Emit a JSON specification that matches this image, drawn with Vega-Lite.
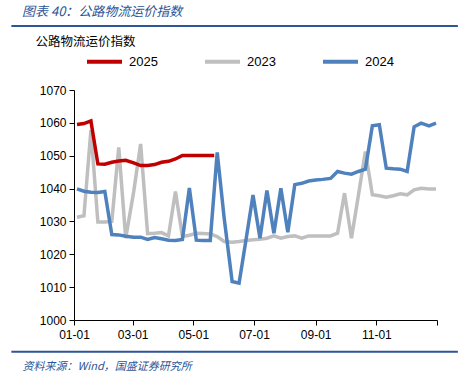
{
  "$schema": "https://vega.github.io/schema/vega-lite/v6.json",
  "width": 363,
  "height": 230,
  "autosize": {"type": "none"},
  "padding": {"left": 74, "top": 90, "right": 33, "bottom": 60},
  "background": "white",
  "config": {
    "view": {"stroke": null},
    "font": "Liberation Sans",
    "axis": {
      "grid": false,
      "domainColor": "#000000",
      "tickColor": "#000000",
      "tickSize": 5,
      "labelColor": "#000000",
      "labelFont": "Liberation Sans",
      "labelFontSize": 12,
      "labelFlush": false,
      "labelOverlap": false,
      "titleFontWeight": "normal",
      "titleFont": "Noto Sans CJK SC"
    }
  },
  "title": {
    "text": "图表 40：公路物流运价指数",
    "anchor": "start",
    "frame": "group",
    "dx": -52,
    "offset": 6,
    "font": "Noto Sans CJK SC",
    "fontSize": 13,
    "fontStyle": "italic",
    "fontWeight": "normal",
    "color": "#2E5597"
  },
  "datasets": {
    "series": [
      {"d": "2001-01-04", "s": "2023", "v": 1031.3},
      {"d": "2001-01-11", "s": "2023", "v": 1031.7},
      {"d": "2001-01-18", "s": "2023", "v": 1057.8},
      {"d": "2001-01-25", "s": "2023", "v": 1029.8},
      {"d": "2001-02-01", "s": "2023", "v": 1029.8},
      {"d": "2001-02-08", "s": "2023", "v": 1030.0},
      {"d": "2001-02-15", "s": "2023", "v": 1052.5},
      {"d": "2001-02-22", "s": "2023", "v": 1024.9},
      {"d": "2001-03-02", "s": "2023", "v": 1039.0},
      {"d": "2001-03-09", "s": "2023", "v": 1053.6},
      {"d": "2001-03-16", "s": "2023", "v": 1026.3},
      {"d": "2001-03-23", "s": "2023", "v": 1026.4},
      {"d": "2001-03-30", "s": "2023", "v": 1026.6},
      {"d": "2001-04-06", "s": "2023", "v": 1025.6},
      {"d": "2001-04-13", "s": "2023", "v": 1039.1},
      {"d": "2001-04-20", "s": "2023", "v": 1025.4},
      {"d": "2001-04-27", "s": "2023", "v": 1025.8},
      {"d": "2001-05-04", "s": "2023", "v": 1026.4},
      {"d": "2001-05-11", "s": "2023", "v": 1026.3},
      {"d": "2001-05-18", "s": "2023", "v": 1026.2},
      {"d": "2001-05-25", "s": "2023", "v": 1025.4},
      {"d": "2001-06-01", "s": "2023", "v": 1023.9},
      {"d": "2001-06-09", "s": "2023", "v": 1023.7},
      {"d": "2001-06-16", "s": "2023", "v": 1023.9},
      {"d": "2001-06-23", "s": "2023", "v": 1024.2},
      {"d": "2001-06-30", "s": "2023", "v": 1024.4},
      {"d": "2001-07-07", "s": "2023", "v": 1024.6},
      {"d": "2001-07-14", "s": "2023", "v": 1024.9},
      {"d": "2001-07-21", "s": "2023", "v": 1025.6},
      {"d": "2001-07-28", "s": "2023", "v": 1024.9},
      {"d": "2001-08-04", "s": "2023", "v": 1025.4},
      {"d": "2001-08-11", "s": "2023", "v": 1025.6},
      {"d": "2001-08-18", "s": "2023", "v": 1024.9},
      {"d": "2001-08-25", "s": "2023", "v": 1025.6},
      {"d": "2001-09-01", "s": "2023", "v": 1025.6},
      {"d": "2001-09-08", "s": "2023", "v": 1025.6},
      {"d": "2001-09-16", "s": "2023", "v": 1025.6},
      {"d": "2001-09-23", "s": "2023", "v": 1026.4},
      {"d": "2001-09-30", "s": "2023", "v": 1038.6},
      {"d": "2001-10-07", "s": "2023", "v": 1024.9},
      {"d": "2001-10-14", "s": "2023", "v": 1038.0},
      {"d": "2001-10-21", "s": "2023", "v": 1051.3},
      {"d": "2001-10-28", "s": "2023", "v": 1038.1},
      {"d": "2001-11-04", "s": "2023", "v": 1037.8},
      {"d": "2001-11-11", "s": "2023", "v": 1037.4},
      {"d": "2001-11-18", "s": "2023", "v": 1037.8},
      {"d": "2001-11-25", "s": "2023", "v": 1038.4},
      {"d": "2001-12-02", "s": "2023", "v": 1038.1},
      {"d": "2001-12-09", "s": "2023", "v": 1039.6},
      {"d": "2001-12-16", "s": "2023", "v": 1040.1},
      {"d": "2001-12-24", "s": "2023", "v": 1039.9},
      {"d": "2001-12-31", "s": "2023", "v": 1039.9},
      {"d": "2001-01-04", "s": "2024", "v": 1039.9},
      {"d": "2001-01-11", "s": "2024", "v": 1039.2},
      {"d": "2001-01-18", "s": "2024", "v": 1038.9},
      {"d": "2001-01-25", "s": "2024", "v": 1038.8},
      {"d": "2001-02-01", "s": "2024", "v": 1039.1},
      {"d": "2001-02-08", "s": "2024", "v": 1026.0},
      {"d": "2001-02-15", "s": "2024", "v": 1025.9},
      {"d": "2001-02-22", "s": "2024", "v": 1025.5},
      {"d": "2001-03-02", "s": "2024", "v": 1025.2},
      {"d": "2001-03-09", "s": "2024", "v": 1025.2},
      {"d": "2001-03-16", "s": "2024", "v": 1024.5},
      {"d": "2001-03-23", "s": "2024", "v": 1025.1},
      {"d": "2001-03-30", "s": "2024", "v": 1024.7},
      {"d": "2001-04-06", "s": "2024", "v": 1024.3},
      {"d": "2001-04-13", "s": "2024", "v": 1024.2},
      {"d": "2001-04-20", "s": "2024", "v": 1024.5},
      {"d": "2001-04-27", "s": "2024", "v": 1040.2},
      {"d": "2001-05-04", "s": "2024", "v": 1024.3},
      {"d": "2001-05-11", "s": "2024", "v": 1024.2},
      {"d": "2001-05-18", "s": "2024", "v": 1024.2},
      {"d": "2001-05-25", "s": "2024", "v": 1051.0},
      {"d": "2001-06-01", "s": "2024", "v": 1031.0},
      {"d": "2001-06-09", "s": "2024", "v": 1011.7},
      {"d": "2001-06-16", "s": "2024", "v": 1011.2},
      {"d": "2001-06-23", "s": "2024", "v": 1024.5},
      {"d": "2001-06-30", "s": "2024", "v": 1038.0},
      {"d": "2001-07-07", "s": "2024", "v": 1024.9},
      {"d": "2001-07-14", "s": "2024", "v": 1039.4},
      {"d": "2001-07-21", "s": "2024", "v": 1026.4},
      {"d": "2001-07-28", "s": "2024", "v": 1040.1},
      {"d": "2001-08-04", "s": "2024", "v": 1026.7},
      {"d": "2001-08-11", "s": "2024", "v": 1041.2},
      {"d": "2001-08-18", "s": "2024", "v": 1041.6},
      {"d": "2001-08-25", "s": "2024", "v": 1042.3},
      {"d": "2001-09-01", "s": "2024", "v": 1042.6},
      {"d": "2001-09-08", "s": "2024", "v": 1042.8},
      {"d": "2001-09-16", "s": "2024", "v": 1043.1},
      {"d": "2001-09-23", "s": "2024", "v": 1045.2},
      {"d": "2001-09-30", "s": "2024", "v": 1044.7},
      {"d": "2001-10-07", "s": "2024", "v": 1044.4},
      {"d": "2001-10-14", "s": "2024", "v": 1045.2},
      {"d": "2001-10-21", "s": "2024", "v": 1045.9},
      {"d": "2001-10-28", "s": "2024", "v": 1059.1},
      {"d": "2001-11-04", "s": "2024", "v": 1059.4},
      {"d": "2001-11-11", "s": "2024", "v": 1046.2},
      {"d": "2001-11-18", "s": "2024", "v": 1046.0},
      {"d": "2001-11-25", "s": "2024", "v": 1045.9},
      {"d": "2001-12-02", "s": "2024", "v": 1045.2},
      {"d": "2001-12-09", "s": "2024", "v": 1058.8},
      {"d": "2001-12-16", "s": "2024", "v": 1059.9},
      {"d": "2001-12-24", "s": "2024", "v": 1059.1},
      {"d": "2001-12-31", "s": "2024", "v": 1059.9},
      {"d": "2001-01-04", "s": "2025", "v": 1059.5},
      {"d": "2001-01-11", "s": "2025", "v": 1059.8},
      {"d": "2001-01-18", "s": "2025", "v": 1060.6},
      {"d": "2001-01-25", "s": "2025", "v": 1047.5},
      {"d": "2001-02-01", "s": "2025", "v": 1047.4},
      {"d": "2001-02-08", "s": "2025", "v": 1048.0},
      {"d": "2001-02-15", "s": "2025", "v": 1048.4},
      {"d": "2001-02-22", "s": "2025", "v": 1048.6},
      {"d": "2001-03-02", "s": "2025", "v": 1047.8},
      {"d": "2001-03-09", "s": "2025", "v": 1047.0},
      {"d": "2001-03-16", "s": "2025", "v": 1047.0},
      {"d": "2001-03-23", "s": "2025", "v": 1047.3},
      {"d": "2001-03-30", "s": "2025", "v": 1048.0},
      {"d": "2001-04-06", "s": "2025", "v": 1048.3},
      {"d": "2001-04-13", "s": "2025", "v": 1049.0},
      {"d": "2001-04-20", "s": "2025", "v": 1050.1},
      {"d": "2001-04-27", "s": "2025", "v": 1050.1},
      {"d": "2001-05-04", "s": "2025", "v": 1050.1},
      {"d": "2001-05-11", "s": "2025", "v": 1050.1},
      {"d": "2001-05-18", "s": "2025", "v": 1050.1},
      {"d": "2001-05-22", "s": "2025", "v": 1050.1}
    ]
  },
  "layer": [
    {
      "data": {"name": "series"},
      "mark": {"type": "line", "strokeWidth": 3.5, "strokeJoin": "miter", "clip": false},
      "encoding": {
        "x": {
          "field": "d",
          "type": "temporal",
          "scale": {
            "type": "utc",
            "domain": [
              {"year": 2001, "month": 1, "date": 1, "utc": true},
              {"year": 2002, "month": 1, "date": 1, "utc": true}
            ]
          },
          "axis": {
            "values": [
              {"year": 2001, "month": 1, "date": 1, "utc": true},
              {"year": 2001, "month": 3, "date": 1, "utc": true},
              {"year": 2001, "month": 5, "date": 1, "utc": true},
              {"year": 2001, "month": 7, "date": 1, "utc": true},
              {"year": 2001, "month": 9, "date": 1, "utc": true},
              {"year": 2001, "month": 11, "date": 1, "utc": true},
              {"year": 2002, "month": 1, "date": 1, "utc": true}
            ],
            "format": "%m-%d",
            "labelExpr": "utcyear(datum.value) == 2002 ? '' : datum.label",
            "labelPadding": 4,
            "title": "资料来源：Wind，国盛证券研究所",
            "titleFontSize": 11,
            "titleFontStyle": "italic",
            "titleColor": "#2E5597",
            "titleAlign": "left",
            "titleAnchor": null,
            "titleX": -52,
            "titleY": 46,
            "titleBaseline": "middle"
          }
        },
        "y": {
          "field": "v",
          "type": "quantitative",
          "scale": {"domain": [1000, 1070], "zero": false, "nice": false},
          "axis": {
            "values": [1000, 1010, 1020, 1030, 1040, 1050, 1060, 1070],
            "format": "d",
            "labelPadding": 3,
            "title": "公路物流运价指数",
            "titleAngle": 0,
            "titleFontSize": 12.5,
            "titleColor": "#000000",
            "titleAlign": "left",
            "titleAnchor": null,
            "titleX": -39,
            "titleY": -49,
            "titleBaseline": "middle"
          }
        },
        "color": {
          "field": "s",
          "type": "nominal",
          "scale": {"domain": ["2025", "2023", "2024"], "range": ["#C00000", "#BFBFBF", "#4F81BD"]},
          "legend": {
            "title": null,
            "orient": "none",
            "legendX": 11,
            "legendY": -48,
            "direction": "horizontal",
            "symbolType": "stroke",
            "symbolSize": 1225,
            "symbolStrokeWidth": 4,
            "labelFont": "Liberation Sans",
            "labelFontSize": 13,
            "labelColor": "#000000",
            "labelOffset": 5,
            "columnPadding": 39
          }
        }
      }
    },
    {
      "data": {"values": [{}]},
      "mark": {"type": "rule", "color": "#2E5597", "strokeWidth": 2, "clip": false},
      "encoding": {
        "x": {
          "datum": {"year": 2000, "month": 10, "date": 30, "utc": true},
          "type": "temporal",
          "axis": {
            "values": [
              {"year": 2001, "month": 1, "date": 1, "utc": true},
              {"year": 2001, "month": 3, "date": 1, "utc": true},
              {"year": 2001, "month": 5, "date": 1, "utc": true},
              {"year": 2001, "month": 7, "date": 1, "utc": true},
              {"year": 2001, "month": 9, "date": 1, "utc": true},
              {"year": 2001, "month": 11, "date": 1, "utc": true},
              {"year": 2002, "month": 1, "date": 1, "utc": true}
            ]
          }
        },
        "x2": {"datum": {"year": 2002, "month": 1, "date": 22, "utc": true}},
        "y": {
          "datum": 1089.5,
          "type": "quantitative",
          "axis": {"values": [1000, 1010, 1020, 1030, 1040, 1050, 1060, 1070]}
        }
      }
    },
    {
      "data": {"values": [{}]},
      "mark": {"type": "rule", "color": "#2E5597", "strokeWidth": 2, "clip": false},
      "encoding": {
        "x": {
          "datum": {"year": 2000, "month": 10, "date": 30, "utc": true},
          "type": "temporal",
          "axis": {
            "values": [
              {"year": 2001, "month": 1, "date": 1, "utc": true},
              {"year": 2001, "month": 3, "date": 1, "utc": true},
              {"year": 2001, "month": 5, "date": 1, "utc": true},
              {"year": 2001, "month": 7, "date": 1, "utc": true},
              {"year": 2001, "month": 9, "date": 1, "utc": true},
              {"year": 2001, "month": 11, "date": 1, "utc": true},
              {"year": 2002, "month": 1, "date": 1, "utc": true}
            ]
          }
        },
        "x2": {"datum": {"year": 2002, "month": 1, "date": 22, "utc": true}},
        "y": {
          "datum": 990.3,
          "type": "quantitative",
          "axis": {"values": [1000, 1010, 1020, 1030, 1040, 1050, 1060, 1070]}
        }
      }
    }
  ]
}
